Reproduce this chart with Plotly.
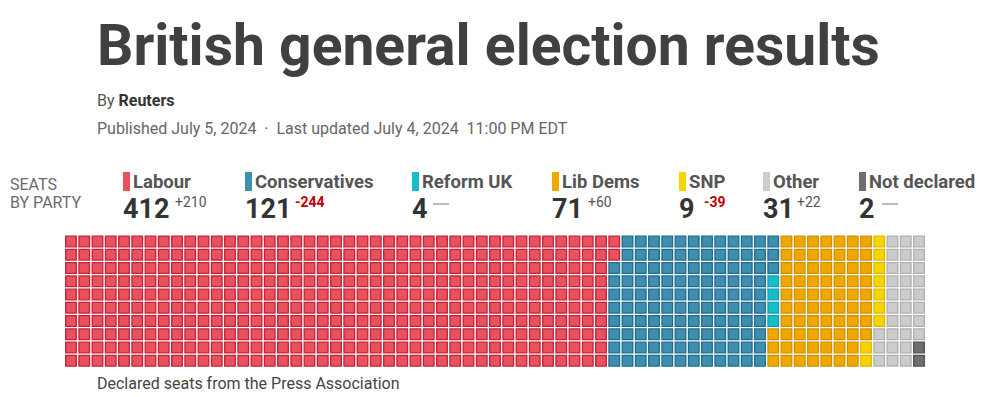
import plotly.graph_objects as go

# ---------------- data ----------------
parties = ["Labour", "Conservatives", "Reform UK", "Lib Dems", "SNP", "Other", "Not declared"]
seats = [412, 121, 4, 71, 9, 31, 2]
changes = [210, -244, None, 60, -39, 22, None]

# ---------------- styles ----------------
fill_colors = ["#E9515B", "#3E8EB1", "#18BDCB", "#EFA800", "#F7D300", "#CCCCCC", "#6F6F6F"]
line_colors = ["#C3203A", "#1E6C8C", "#0FA0AE", "#D18F00", "#DDB900", "#AEAEAE", "#505050"]

W, H = 1000, 397
ROWS = 10
PITCH = 13.25
X0 = 71.0    # pixel centre of first column
Y0 = 241.5   # pixel centre of first row

FONT = "Roboto"

fig = go.Figure()

# waffle cells, filled column by column, top to bottom
start = 0
for name, n, fc, lc in zip(parties, seats, fill_colors, line_colors):
    idx = list(range(start, start + n))
    xs = [i // ROWS for i in idx]
    ys = [-(i % ROWS) for i in idx]
    start += n
    fig.add_trace(go.Scatter(
        x=xs, y=ys, mode="markers", name=name,
        marker=dict(symbol="square", size=10.6, color=fc, line=dict(color=lc, width=1.3)),
        hoverinfo="name", showlegend=False,
    ))

fig.update_xaxes(range=[-X0 / PITCH, (W - X0) / PITCH], visible=False, fixedrange=True)
fig.update_yaxes(range=[-(H - Y0) / PITCH, Y0 / PITCH], visible=False, fixedrange=True)


def px(x):
    return x / W


def py(y):
    return 1 - y / H


ann = []


def text(x, y, s, size, color, bold=False, family=FONT, anchor="left"):
    if bold:
        s = "<b>" + s + "</b>"
    ann.append(dict(x=px(x), y=py(y), xref="paper", yref="paper", text=s, showarrow=False,
                    xanchor=anchor, yanchor="middle", align="left",
                    font=dict(size=size, color=color, family=family)))


# headline
text(95, 45, "British general election results", 57, "#404040", bold=True)
text(95, 101, "By <b style='color:#333'>Reuters</b>", 16, "#555555")
text(95, 128, "Published July 5, 2024  ·  Last updated July 4, 2024  11:00 PM EDT", 16, "#666666")

# legend header
text(8, 185, "SEATS", 16, "#6a6a6a")
text(8, 202, "BY PARTY", 16, "#6a6a6a")

legend_x = [123, 245, 412, 552, 679, 763, 859]
change_dx = [50, 48, 0, 34, 23, 32, 0]
dash_dx = [0, 0, 21, 0, 0, 0, 23]

shapes = []
for name, n, ch, fc, lx, cdx, ddx in zip(parties, seats, changes, fill_colors, legend_x, change_dx, dash_dx):
    shapes.append(dict(type="rect", xref="paper", yref="paper",
                       x0=px(lx), x1=px(lx + 7), y0=py(191), y1=py(172),
                       fillcolor=fc, line=dict(width=0)))
    text(lx + 8, 182, name, 18.5, "#555555", bold=True)
    text(lx - 2, 209, str(n), 27, "#333333", bold=True)
    if ch is None:
        shapes.append(dict(type="line", xref="paper", yref="paper",
                           x0=px(lx + ddx), x1=px(lx + ddx + 16), y0=py(204), y1=py(204),
                           line=dict(color="#bbbbbb", width=2)))
    elif ch > 0:
        text(lx + cdx, 202, "+" + str(ch), 14, "#555555")
    else:
        text(lx + cdx, 202, "-" + str(abs(ch)), 14, "#C00000", bold=True)

# footer
text(95, 383, "Declared seats from the Press Association", 16, "#444444")

fig.update_layout(
    width=W, height=H, margin=dict(l=0, r=0, t=0, b=0),
    paper_bgcolor="white", plot_bgcolor="white",
    annotations=ann, shapes=shapes, showlegend=False,
)

fig.write_html("out.html", config={"displayModeBar": False},
               post_script="document.body.style.margin='0px';document.body.style.overflow='hidden';")
